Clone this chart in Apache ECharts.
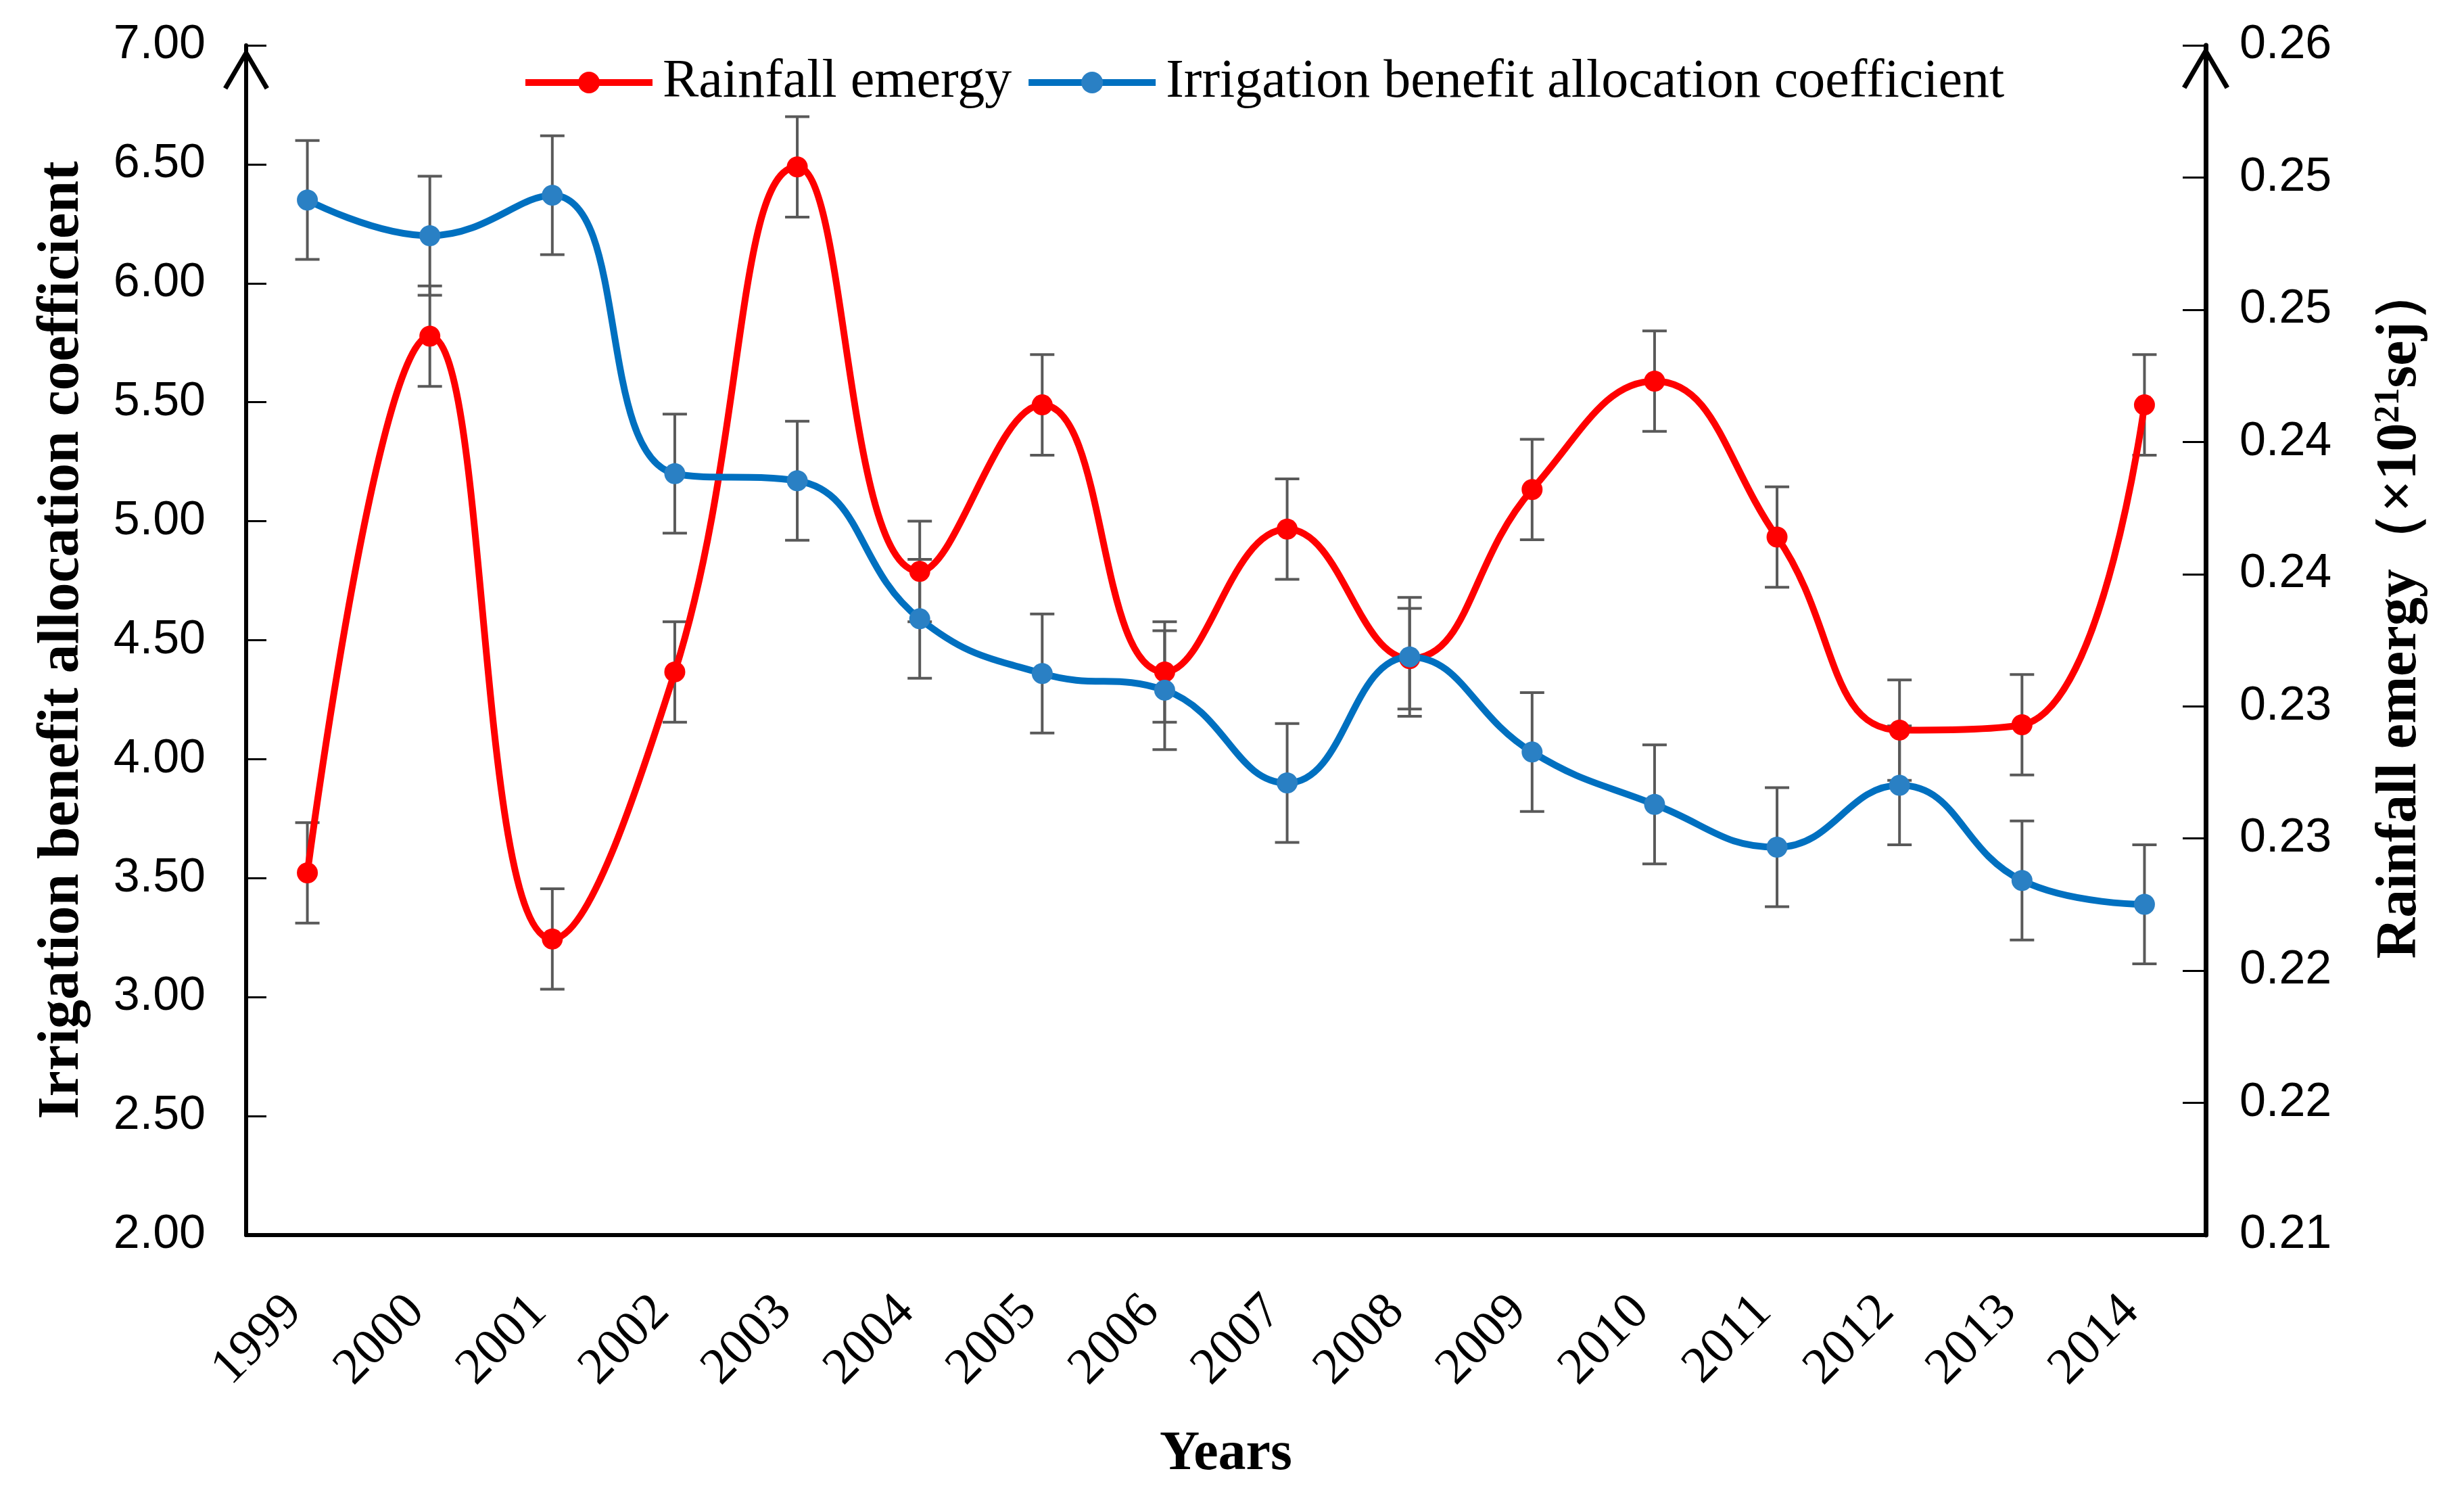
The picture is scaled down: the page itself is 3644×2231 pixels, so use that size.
<!DOCTYPE html>
<html>
<head>
<meta charset="utf-8">
<style>
  html, body { margin: 0; padding: 0; background: #ffffff; }
  #chart { width: 3644px; height: 2231px; }
</style>
<script src="https://cdn.jsdelivr.net/npm/echarts@6/dist/echarts.min.js"></script>
</head>
<body>
<div id="chart"></div>
<script>
// ---- data ----
const years = ['1999','2000','2001','2002','2003','2004','2005','2006','2007','2008','2009','2010','2011','2012','2013','2014'];
// Rainfall emergy (right axis, x10^21 sej)
const rainfallEmergy = [0.2237, 0.2440, 0.2212, 0.2313, 0.2504, 0.2351, 0.2414, 0.2313, 0.2367, 0.2318, 0.2382, 0.2423, 0.2364, 0.2291, 0.2293, 0.2414];
const rainfallErr = [0.0019, 0.0019, 0.0019, 0.0019, 0.0019, 0.0019, 0.0019, 0.0019, 0.0019, 0.0019, 0.0019, 0.0019, 0.0019, 0.0019, 0.0019, 0.0019];
// Irrigation benefit allocation coefficient (left axis)
const irrigationCoef = [6.35, 6.20, 6.37, 5.20, 5.17, 4.59, 4.36, 4.29, 3.90, 4.43, 4.03, 3.81, 3.63, 3.89, 3.49, 3.39];
const irrigationErr = [0.25, 0.25, 0.25, 0.25, 0.25, 0.25, 0.25, 0.25, 0.25, 0.25, 0.25, 0.25, 0.25, 0.25, 0.25, 0.25];
// right axis tick labels (as printed, 2 decimals)
const rightTickLabels = ['0.21','0.22','0.22','0.23','0.23','0.24','0.24','0.25','0.25','0.26'];

const serif = 'Liberation Serif, Times New Roman, serif';
const sans = 'Liberation Sans, Arial, sans-serif';
const chevron = 'path://M50,0 L100,85 L91,90 L50,19 L9,90 L0,85 Z';

function errData(vals, errs) {
  return vals.map((v, i) => [i, v - errs[i], v + errs[i]]);
}
function renderErr(params, api) {
  const x = api.value(0);
  const pHi = api.coord([x, api.value(2)]);
  const pLo = api.coord([x, api.value(1)]);
  const w = 18;
  const st = { stroke: '#595959', lineWidth: 4 };
  return {
    type: 'group',
    children: [
      { type: 'line', shape: { x1: pHi[0], y1: pHi[1], x2: pLo[0], y2: pLo[1] }, style: st },
      { type: 'line', shape: { x1: pHi[0] - w, y1: pHi[1], x2: pHi[0] + w, y2: pHi[1] }, style: st },
      { type: 'line', shape: { x1: pLo[0] - w, y1: pLo[1], x2: pLo[0] + w, y2: pLo[1] }, style: st }
    ]
  };
}

const chart = echarts.init(document.getElementById('chart'), null, { renderer: 'canvas' });
chart.setOption({
  animation: false,
  backgroundColor: '#ffffff',
  legend: {
    data: ['Rainfall emergy', 'Irrigation benefit allocation coefficient'],
    left: 772,
    top: 82,
    itemWidth: 188,
    itemHeight: 40,
    itemGap: 20,
    padding: 0,
    lineStyle: { width: 10 },
    textStyle: { fontFamily: serif, fontSize: 80, color: '#000', padding: [0, 0, 0, 10] }
  },
  grid: { left: 364, right: 382, top: 67, bottom: 405, containLabel: false },
  xAxis: {
    type: 'category',
    data: years,
    boundaryGap: true,
    axisLine: { onZero: false, lineStyle: { color: '#000', width: 6 } },
    axisTick: { inside: true, length: 30, lineStyle: { color: '#000', width: 3 } },
    axisLabel: {
      interval: 0, rotate: 45, margin: 82, padding: [0, 28, 0, 0],
      fontFamily: serif, fontSize: 76, color: '#000'
    },
    splitLine: { show: false },
    name: 'Years',
    nameLocation: 'middle',
    nameGap: 284,
    nameTextStyle: { fontFamily: serif, fontSize: 82, fontWeight: 'bold', color: '#000' }
  },
  yAxis: [
    {
      type: 'value',
      position: 'left',
      min: 2, max: 7, interval: 0.5,
      axisLine: {
        show: true, onZero: false,
        lineStyle: { color: '#000', width: 6 },
        symbol: ['none', chevron], symbolSize: [68, 61], symbolOffset: [0, -35]
      },
      axisTick: { show: true, inside: true, length: 30, lineStyle: { color: '#000', width: 3 } },
      axisLabel: { margin: 60, fontFamily: sans, fontSize: 70, color: '#000', formatter: v => v.toFixed(2) },
      splitLine: { show: false },
      name: 'Irrigation benefit allocation coefficient',
      nameLocation: 'middle',
      nameRotate: 90,
      nameGap: 228,
      nameTextStyle: { fontFamily: serif, fontSize: 86, fontWeight: 'bold', color: '#000' }
    },
    {
      type: 'value',
      position: 'right',
      min: 0.21, max: 0.255, interval: 0.005,
      axisLine: {
        show: true, onZero: false,
        lineStyle: { color: '#000', width: 7 },
        symbol: ['none', chevron], symbolSize: [70, 63], symbolOffset: [0, -33]
      },
      axisTick: { show: true, inside: true, length: 34, lineStyle: { color: '#000', width: 3 } },
      axisLabel: {
        margin: 50, fontFamily: sans, fontSize: 70, color: '#000',
        formatter: v => rightTickLabels[Math.round((v - 0.21) / 0.005)]
      },
      splitLine: { show: false },
      name: '{t|Rainfall emergy（×10}{s|21}{t|sej）}',
      nameLocation: 'middle',
      nameRotate: 90,
      nameGap: 246,
      nameTextStyle: {
        fontFamily: serif, fontSize: 84, fontWeight: 'bold', color: '#000',
        padding: [0, 0, 30, 84],
        rich: {
          t: { fontFamily: serif, fontSize: 84, fontWeight: 'bold', color: '#000' },
          s: { fontFamily: serif, fontSize: 52, fontWeight: 'bold', color: '#000', verticalAlign: 'top', lineHeight: 84 }
        }
      }
    }
  ],
  series: [
    {
      name: 'Rainfall emergy err',
      type: 'custom',
      yAxisIndex: 1,
      renderItem: renderErr,
      encode: { x: 0, y: [1, 2] },
      data: errData(rainfallEmergy, rainfallErr),
      z: 1,
      silent: true
    },
    {
      name: 'Irrigation err',
      type: 'custom',
      yAxisIndex: 0,
      renderItem: renderErr,
      encode: { x: 0, y: [1, 2] },
      data: errData(irrigationCoef, irrigationErr),
      z: 1,
      silent: true
    },
    {
      name: 'Rainfall emergy',
      type: 'line',
      yAxisIndex: 1,
      data: rainfallEmergy,
      smooth: 0.45,
      symbol: 'circle',
      symbolSize: 31,
      lineStyle: { color: '#FF0000', width: 10 },
      itemStyle: { color: '#FF0000' },
      z: 3
    },
    {
      name: 'Irrigation benefit allocation coefficient',
      type: 'line',
      yAxisIndex: 0,
      data: irrigationCoef,
      smooth: 0.45,
      symbol: 'circle',
      symbolSize: 31,
      lineStyle: { color: '#0070C0', width: 10 },
      itemStyle: { color: '#2A80C4' },
      z: 4
    }
  ]
});
</script>
</body>
</html>
